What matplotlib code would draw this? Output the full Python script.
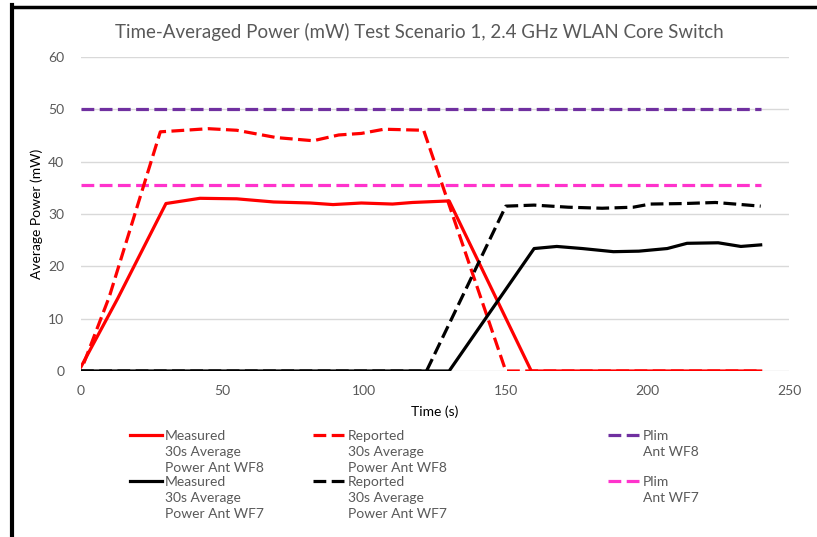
import matplotlib
matplotlib.use("Agg")
import matplotlib.pyplot as plt
from matplotlib.lines import Line2D

plt.rcParams['font.family'] = ['Lato', 'DejaVu Sans']

# --- data (time in s, power in mW) ---
meas_wf8_t = [0, 13, 30, 42, 55, 68, 81, 89, 99, 110, 117, 130, 159, 240]
meas_wf8_p = [0.8, 13.9, 32.0, 33.0, 32.9, 32.3, 32.1, 31.8, 32.1, 31.9, 32.2, 32.5, 0, 0]

rep_wf8_t = [1, 10, 28, 45, 55, 69, 82, 91, 99, 107, 121, 150, 240]
rep_wf8_p = [1.5, 14.2, 45.7, 46.3, 46.0, 44.6, 44.0, 45.1, 45.4, 46.2, 46.0, 0, 0]

meas_wf7_t = [0, 130, 160, 168, 177, 188, 197, 207, 214, 225, 233, 240]
meas_wf7_p = [0, 0, 23.4, 23.8, 23.4, 22.8, 22.9, 23.4, 24.4, 24.5, 23.8, 24.1]

rep_wf7_t = [0, 122, 150, 160, 172, 184, 195, 201, 213, 224, 231, 240]
rep_wf7_p = [0, 0, 31.5, 31.7, 31.3, 31.1, 31.3, 31.9, 32.0, 32.2, 31.9, 31.5]

plim_t = [0, 240]
plim_wf8 = 50.0
plim_wf7 = 35.5

legend_labels = [
    "Measured\n30s Average\nPower Ant WF8",
    "Reported\n30s Average\nPower Ant WF8",
    "Plim\nAnt WF8",
    "Measured\n30s Average\nPower Ant WF7",
    "Reported\n30s Average\nPower Ant WF7",
    "Plim\nAnt WF7",
]

RED = "#FF0000"
BLACK = "#000000"
PURPLE = "#7030A0"
PINK = "#FF33CC"
GRAY_TXT = "#595959"
DASH = (4, 1.7)
LW = 2.3

fig = plt.figure(figsize=(8.17, 5.37), dpi=100)
ax = fig.add_axes([81 / 817, 1 - 371 / 537, 708 / 817, 314 / 537])

ax.plot(plim_t, [plim_wf8] * 2, color=PURPLE, lw=LW, dashes=DASH, zorder=3)
ax.plot(plim_t, [plim_wf7] * 2, color=PINK, lw=LW, dashes=DASH, zorder=3)
ax.plot(rep_wf8_t, rep_wf8_p, color=RED, lw=LW, dashes=DASH, zorder=3)
ax.plot(meas_wf8_t, meas_wf8_p, color=RED, lw=LW, zorder=4)
ax.plot(rep_wf7_t, rep_wf7_p, color=BLACK, lw=LW, dashes=DASH, zorder=5)
ax.plot(meas_wf7_t, meas_wf7_p, color=BLACK, lw=LW, zorder=5)

ax.set_xlim(0, 250)
ax.set_ylim(0, 60)
ax.set_xticks(range(0, 251, 50))
ax.set_yticks(range(0, 61, 10))
ax.grid(axis='y', color='#D9D9D9', lw=1.0, zorder=0)
ax.set_axisbelow(True)
for s in ax.spines.values():
    s.set_visible(False)
ax.tick_params(length=0, labelsize=10, labelcolor=GRAY_TXT, pad=10)
ax.tick_params(axis='y', pad=12)
ax.set_xlabel("Time (s)", fontsize=10, color='black', labelpad=6)
ax.set_ylabel("Average Power (mW)", fontsize=10, color='black', labelpad=4)

fig.text(419 / 817, 1 - 32 / 537,
         "Time-Averaged Power (mW) Test Scenario 1, 2.4 GHz WLAN Core Switch",
         ha='center', va='center', fontsize=13.5, color=GRAY_TXT)

# --- legend, Excel style: handle next to the first text line ---
styles = [
    dict(color=RED), dict(color=RED, dashes=DASH), dict(color=PURPLE, dashes=DASH),
    dict(color=BLACK), dict(color=BLACK, dashes=DASH), dict(color=PINK, dashes=DASH),
]
col_x = [130, 313, 608]
row_y = [435, 481]
for i, (lab, st) in enumerate(zip(legend_labels, styles)):
    x0 = col_x[i % 3]
    y0 = row_y[i // 3]
    yf = 1 - y0 / 537
    fig.add_artist(Line2D([x0 / 817, (x0 + 32) / 817], [yf, yf], lw=LW,
                          transform=fig.transFigure, **st))
    fig.text((x0 + 35) / 817, yf + 5 / 537, lab, ha='left', va='top',
             fontsize=10, color=GRAY_TXT, linespacing=1.42)

# chart frame edges (top and left) as in the screenshot
fig.add_artist(Line2D([12 / 817, 1], [1 - 6.5 / 537] * 2, color='black', lw=2.5,
                      transform=fig.transFigure))
fig.add_artist(Line2D([12 / 817] * 2, [0, 1 - 5 / 537], color='black', lw=3,
                      transform=fig.transFigure))

fig.savefig("out.png", dpi=100)
